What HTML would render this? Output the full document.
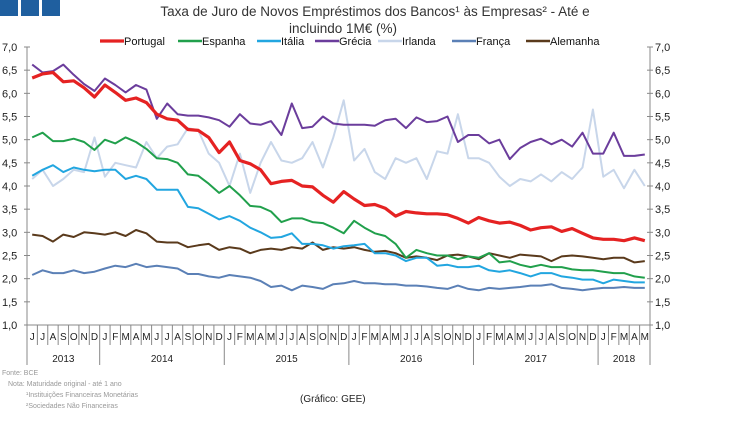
<!DOCTYPE html>
<html><head><meta charset="utf-8"><style>
body{margin:0;background:#fff;width:750px;height:416px;overflow:hidden}
svg{font-family:"Liberation Sans",sans-serif}
</style></head><body>
<svg id="s" width="750" height="416" xmlns="http://www.w3.org/2000/svg">
<rect x="0" y="0" width="18" height="16" fill="#1f5f9f"/>
<rect x="21" y="0" width="18" height="16" fill="#1f5f9f"/>
<rect x="42" y="0" width="18" height="16" fill="#1f5f9f"/>
<text x="375" y="16" font-size="13.5" fill="#333" text-anchor="middle">Taxa de Juro de Novos Empréstimos dos Bancos¹ às Empresas² - Até e</text>
<text x="343" y="33" font-size="13.5" fill="#333" text-anchor="middle">incluindo 1M€ (%)</text>
<g id="g"></g>
<text x="2" y="375" font-size="7" fill="#999">Fonte: BCE</text>
<text x="8" y="386" font-size="7" fill="#999">Nota: Maturidade original - até 1 ano</text>
<text x="26" y="397" font-size="7" fill="#999">¹Instituições Financeiras Monetárias</text>
<text x="26" y="408" font-size="7" fill="#999">²Sociedades Não Financeiras</text>
<text x="300" y="402" font-size="10" fill="#222">(Gráfico: GEE)</text>
</svg>
<script>
var NS="http://www.w3.org/2000/svg",g=document.getElementById('g');
function el(t,a,txt){var e=document.createElementNS(NS,t);for(var k in a)e.setAttribute(k,a[k]);if(txt!=null)e.textContent=txt;g.appendChild(e);return e;}
var X0=27,X1=650,Y1=325,Y7=47,n=60,w=(X1-X0)/n;
function Y(v){return Y1-(v-1)*(Y1-Y7)/6;}
el('line',{x1:X0,y1:Y7,x2:X0,y2:365,stroke:'#888','stroke-width':1});
el('line',{x1:X1,y1:Y7,x2:X1,y2:365,stroke:'#888','stroke-width':1});
el('line',{x1:X0,y1:Y1,x2:X1,y2:Y1,stroke:'#888','stroke-width':1});
for(var v=1;v<=7.001;v+=0.5){var y=Y(v),s=v.toFixed(1).replace('.',',');
el('line',{x1:X0-3,y1:y,x2:X0+3,y2:y,stroke:'#888'});el('line',{x1:X1-3,y1:y,x2:X1+3,y2:y,stroke:'#888'});
el('text',{x:2,y:y+4,'font-size':11,fill:'#222'},s);el('text',{x:655,y:y+4,'font-size':11,fill:'#222'},s);}
var ml="JFMAMJJASOND";
for(var i=0;i<n;i++){var m=(i+5)%12;var x=X0+w*i;
if(i>0)el('line',{x1:x,y1:Y1,x2:x,y2:m==0?365:345,stroke:'#888'});
el('text',{x:x+w/2,y:340,'font-size':10,fill:'#222','text-anchor':'middle'},ml[m]);}
[[2013,0,7],[2014,7,19],[2015,19,31],[2016,31,43],[2017,43,55],[2018,55,60]].forEach(function(a){
el('text',{x:X0+w*(a[1]+a[2])/2,y:362,'font-size':10,fill:'#222','text-anchor':'middle'},a[0]);});
var S=[
["Irlanda","#c8d6ea",2,[4.15,4.35,4.00,4.15,4.35,4.30,5.05,4.20,4.50,4.45,4.40,4.95,4.60,4.85,4.90,5.25,5.20,4.70,4.50,4.00,4.70,3.85,4.50,4.95,4.55,4.50,4.60,4.95,4.40,5.05,5.85,4.55,4.80,4.30,4.15,4.60,4.50,4.60,4.15,4.75,4.70,5.55,4.60,4.60,4.50,4.20,4.00,4.15,4.10,4.25,4.10,4.30,4.15,4.40,5.65,4.20,4.35,3.95,4.35,4.00]],
["França","#5b80b6",2,[2.08,2.18,2.12,2.12,2.18,2.12,2.15,2.22,2.28,2.25,2.32,2.25,2.28,2.25,2.22,2.10,2.10,2.05,2.02,2.08,2.05,2.02,1.95,1.82,1.85,1.75,1.85,1.82,1.78,1.88,1.90,1.95,1.90,1.90,1.88,1.88,1.85,1.85,1.83,1.80,1.78,1.85,1.78,1.75,1.80,1.78,1.80,1.82,1.85,1.85,1.88,1.80,1.78,1.75,1.78,1.80,1.80,1.82,1.80,1.80]],
["Alemanha","#5a3a1c",2,[2.95,2.92,2.80,2.95,2.90,3.00,2.98,2.95,3.00,2.92,3.05,2.98,2.80,2.78,2.78,2.68,2.72,2.75,2.62,2.68,2.65,2.55,2.62,2.65,2.62,2.68,2.65,2.78,2.62,2.68,2.65,2.68,2.62,2.58,2.60,2.55,2.45,2.48,2.45,2.40,2.50,2.52,2.48,2.42,2.55,2.50,2.45,2.52,2.50,2.48,2.38,2.48,2.50,2.48,2.45,2.42,2.45,2.45,2.35,2.38]],
["Itália","#22a6e0",2,[4.22,4.35,4.45,4.30,4.40,4.35,4.32,4.35,4.35,4.15,4.22,4.15,3.92,3.92,3.92,3.55,3.52,3.40,3.28,3.35,3.25,3.10,3.00,2.88,2.90,2.98,2.75,2.75,2.72,2.65,2.70,2.72,2.75,2.55,2.55,2.50,2.38,2.45,2.45,2.28,2.30,2.25,2.25,2.28,2.18,2.15,2.18,2.12,2.05,2.12,2.12,2.05,2.02,1.98,1.98,1.90,1.98,1.95,1.92,1.92]],
["Espanha","#21a04c",2,[5.05,5.15,4.97,4.97,5.02,4.95,4.78,5.00,4.92,5.05,4.95,4.80,4.60,4.58,4.50,4.25,4.22,4.05,3.85,4.00,3.80,3.57,3.55,3.45,3.22,3.30,3.30,3.22,3.20,3.10,2.98,3.25,3.10,2.98,2.92,2.75,2.45,2.62,2.55,2.50,2.50,2.42,2.48,2.45,2.55,2.35,2.38,2.30,2.25,2.30,2.25,2.25,2.20,2.18,2.18,2.15,2.12,2.12,2.05,2.02]],
["Grécia","#6b3d9c",2,[6.62,6.45,6.48,6.62,6.40,6.20,6.05,6.32,6.18,6.02,6.18,6.08,5.45,5.78,5.55,5.52,5.52,5.48,5.42,5.28,5.55,5.35,5.32,5.40,5.10,5.78,5.25,5.28,5.50,5.35,5.32,5.32,5.32,5.30,5.42,5.45,5.25,5.48,5.38,5.40,5.50,4.95,5.10,5.10,4.92,5.00,4.58,4.82,4.95,5.02,4.90,5.00,4.85,5.15,4.70,4.70,5.15,4.65,4.65,4.68]],
["Portugal","#e52222",3.2,[6.33,6.42,6.45,6.25,6.27,6.12,5.92,6.18,6.02,5.85,5.90,5.80,5.55,5.45,5.42,5.22,5.20,5.05,4.72,4.95,4.55,4.48,4.35,4.05,4.10,4.12,4.00,3.98,3.80,3.65,3.88,3.72,3.58,3.60,3.52,3.35,3.45,3.42,3.40,3.40,3.38,3.30,3.20,3.32,3.25,3.20,3.22,3.15,3.05,3.10,3.12,3.02,3.08,2.98,2.88,2.85,2.85,2.82,2.88,2.82]]];
S.forEach(function(s){var p=s[3].map(function(v,i){return (X0+w*(i+0.5)).toFixed(1)+','+Y(v).toFixed(1);}).join(' ');
el('polyline',{points:p,fill:'none',stroke:s[1],'stroke-width':s[2],'stroke-linejoin':'round'});});
var L=[["Portugal","#e52222",100,3.2],["Espanha","#21a04c",178,2.5],["Itália","#22a6e0",257,2.5],["Grécia","#6b3d9c",315,2.5],["Irlanda","#c8d6ea",378,2.5],["França","#5b80b6",452,2.5],["Alemanha","#5a3a1c",526,2.5]];
L.forEach(function(l){el('line',{x1:l[2],y1:41,x2:l[2]+24,y2:41,stroke:l[1],'stroke-width':l[3]});
el('text',{x:l[2]+24,y:45,'font-size':11,fill:'#111'},l[0]);});
</script>
</body></html>
